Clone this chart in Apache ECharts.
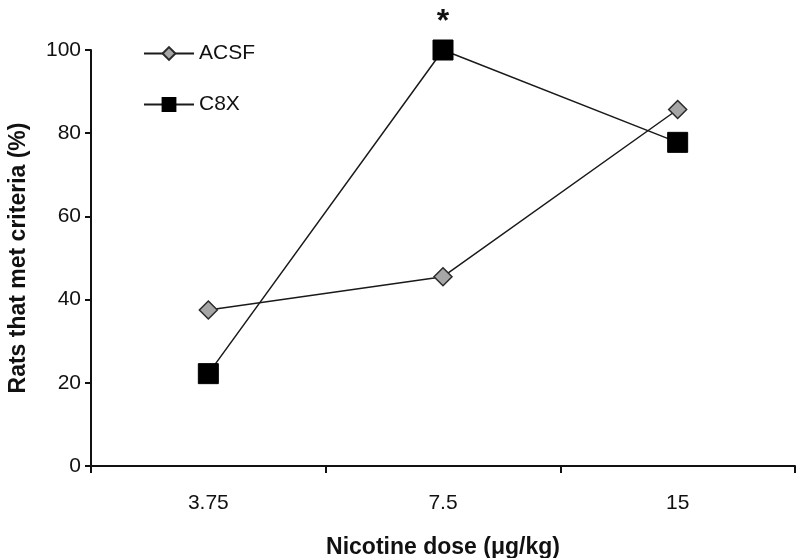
<!DOCTYPE html>
<html>
<head>
<meta charset="utf-8">
<script src="https://cdn.jsdelivr.net/npm/echarts@6/dist/echarts.min.js"></script>
<style>
  html, body { margin: 0; padding: 0; background: #fff; }
  #chart { width: 798px; height: 558px; }
</style>
</head>
<body>
<div id="chart"></div>
<script>
// dose categories
var doses = ['3.75', '7.5', '15'];
// % rats that met criteria
var acsf = [37.5, 45.5, 85.7];
var c8x = [22.2, 100, 77.8];
// significance marks over C8X
var sigMarks = ['', '*', ''];

var chart = echarts.init(document.getElementById('chart'));
var font = 'Liberation Sans, Arial, sans-serif';

chart.setOption({
    animation: false,
    grid: { left: 91, right: 3, top: 50, bottom: 92, containLabel: false, outerBoundsMode: 'none' },
    legend: {
        orient: 'vertical',
        left: 138,
        top: 38,
        itemWidth: 50,
        itemHeight: 16,
        itemGap: 30,
        textStyle: { fontFamily: font, fontSize: 21, color: '#111' },
        data: ['ACSF', 'C8X']
    },
    xAxis: {
        type: 'category',
        data: doses,
        boundaryGap: true,
        name: 'Nicotine dose (μg/kg)',
        nameLocation: 'middle',
        nameGap: 70,
        nameTextStyle: { fontFamily: font, fontSize: 23, fontWeight: 'bold', color: '#111' },
        axisLine: { lineStyle: { color: '#111', width: 2 } },
        axisTick: { show: true, length: 7, lineStyle: { color: '#111', width: 2 } },
        axisLabel: { fontFamily: font, fontSize: 21, color: '#111', margin: 27 },
        splitLine: { show: false }
    },
    yAxis: {
        type: 'value',
        min: 0,
        max: 100,
        interval: 20,
        name: 'Rats that met criteria (%)',
        nameLocation: 'middle',
        nameGap: 61,
        nameTextStyle: { fontFamily: font, fontSize: 23, fontWeight: 'bold', color: '#111' },
        axisLine: { show: true, lineStyle: { color: '#111', width: 2 } },
        axisTick: { show: true, length: 6, lineStyle: { color: '#111', width: 2 } },
        axisLabel: { fontFamily: font, fontSize: 21, color: '#111', margin: 10 },
        splitLine: { show: false }
    },
    series: [
        {
            name: 'ACSF',
            type: 'line',
            data: acsf,
            symbol: 'diamond',
            symbolSize: 18,
            z: 3,
            lineStyle: { color: '#1a1a1a', width: 1.5 },
            itemStyle: { color: '#a6a6a6', borderColor: '#2a2a2a', borderWidth: 1.5 }
        },
        {
            name: 'C8X',
            type: 'line',
            data: c8x,
            symbol: 'rect',
            symbolSize: 20,
            z: 4,
            lineStyle: { color: '#1a1a1a', width: 1.5 },
            itemStyle: { color: '#000', borderColor: '#000', borderWidth: 1 },
            label: {
                show: true,
                position: 'top',
                distance: 1,
                fontFamily: font,
                fontSize: 32,
                fontWeight: 'bold',
                color: '#111',
                formatter: function (p) { return sigMarks[p.dataIndex]; }
            }
        }
    ]
});
</script>
</body>
</html>
